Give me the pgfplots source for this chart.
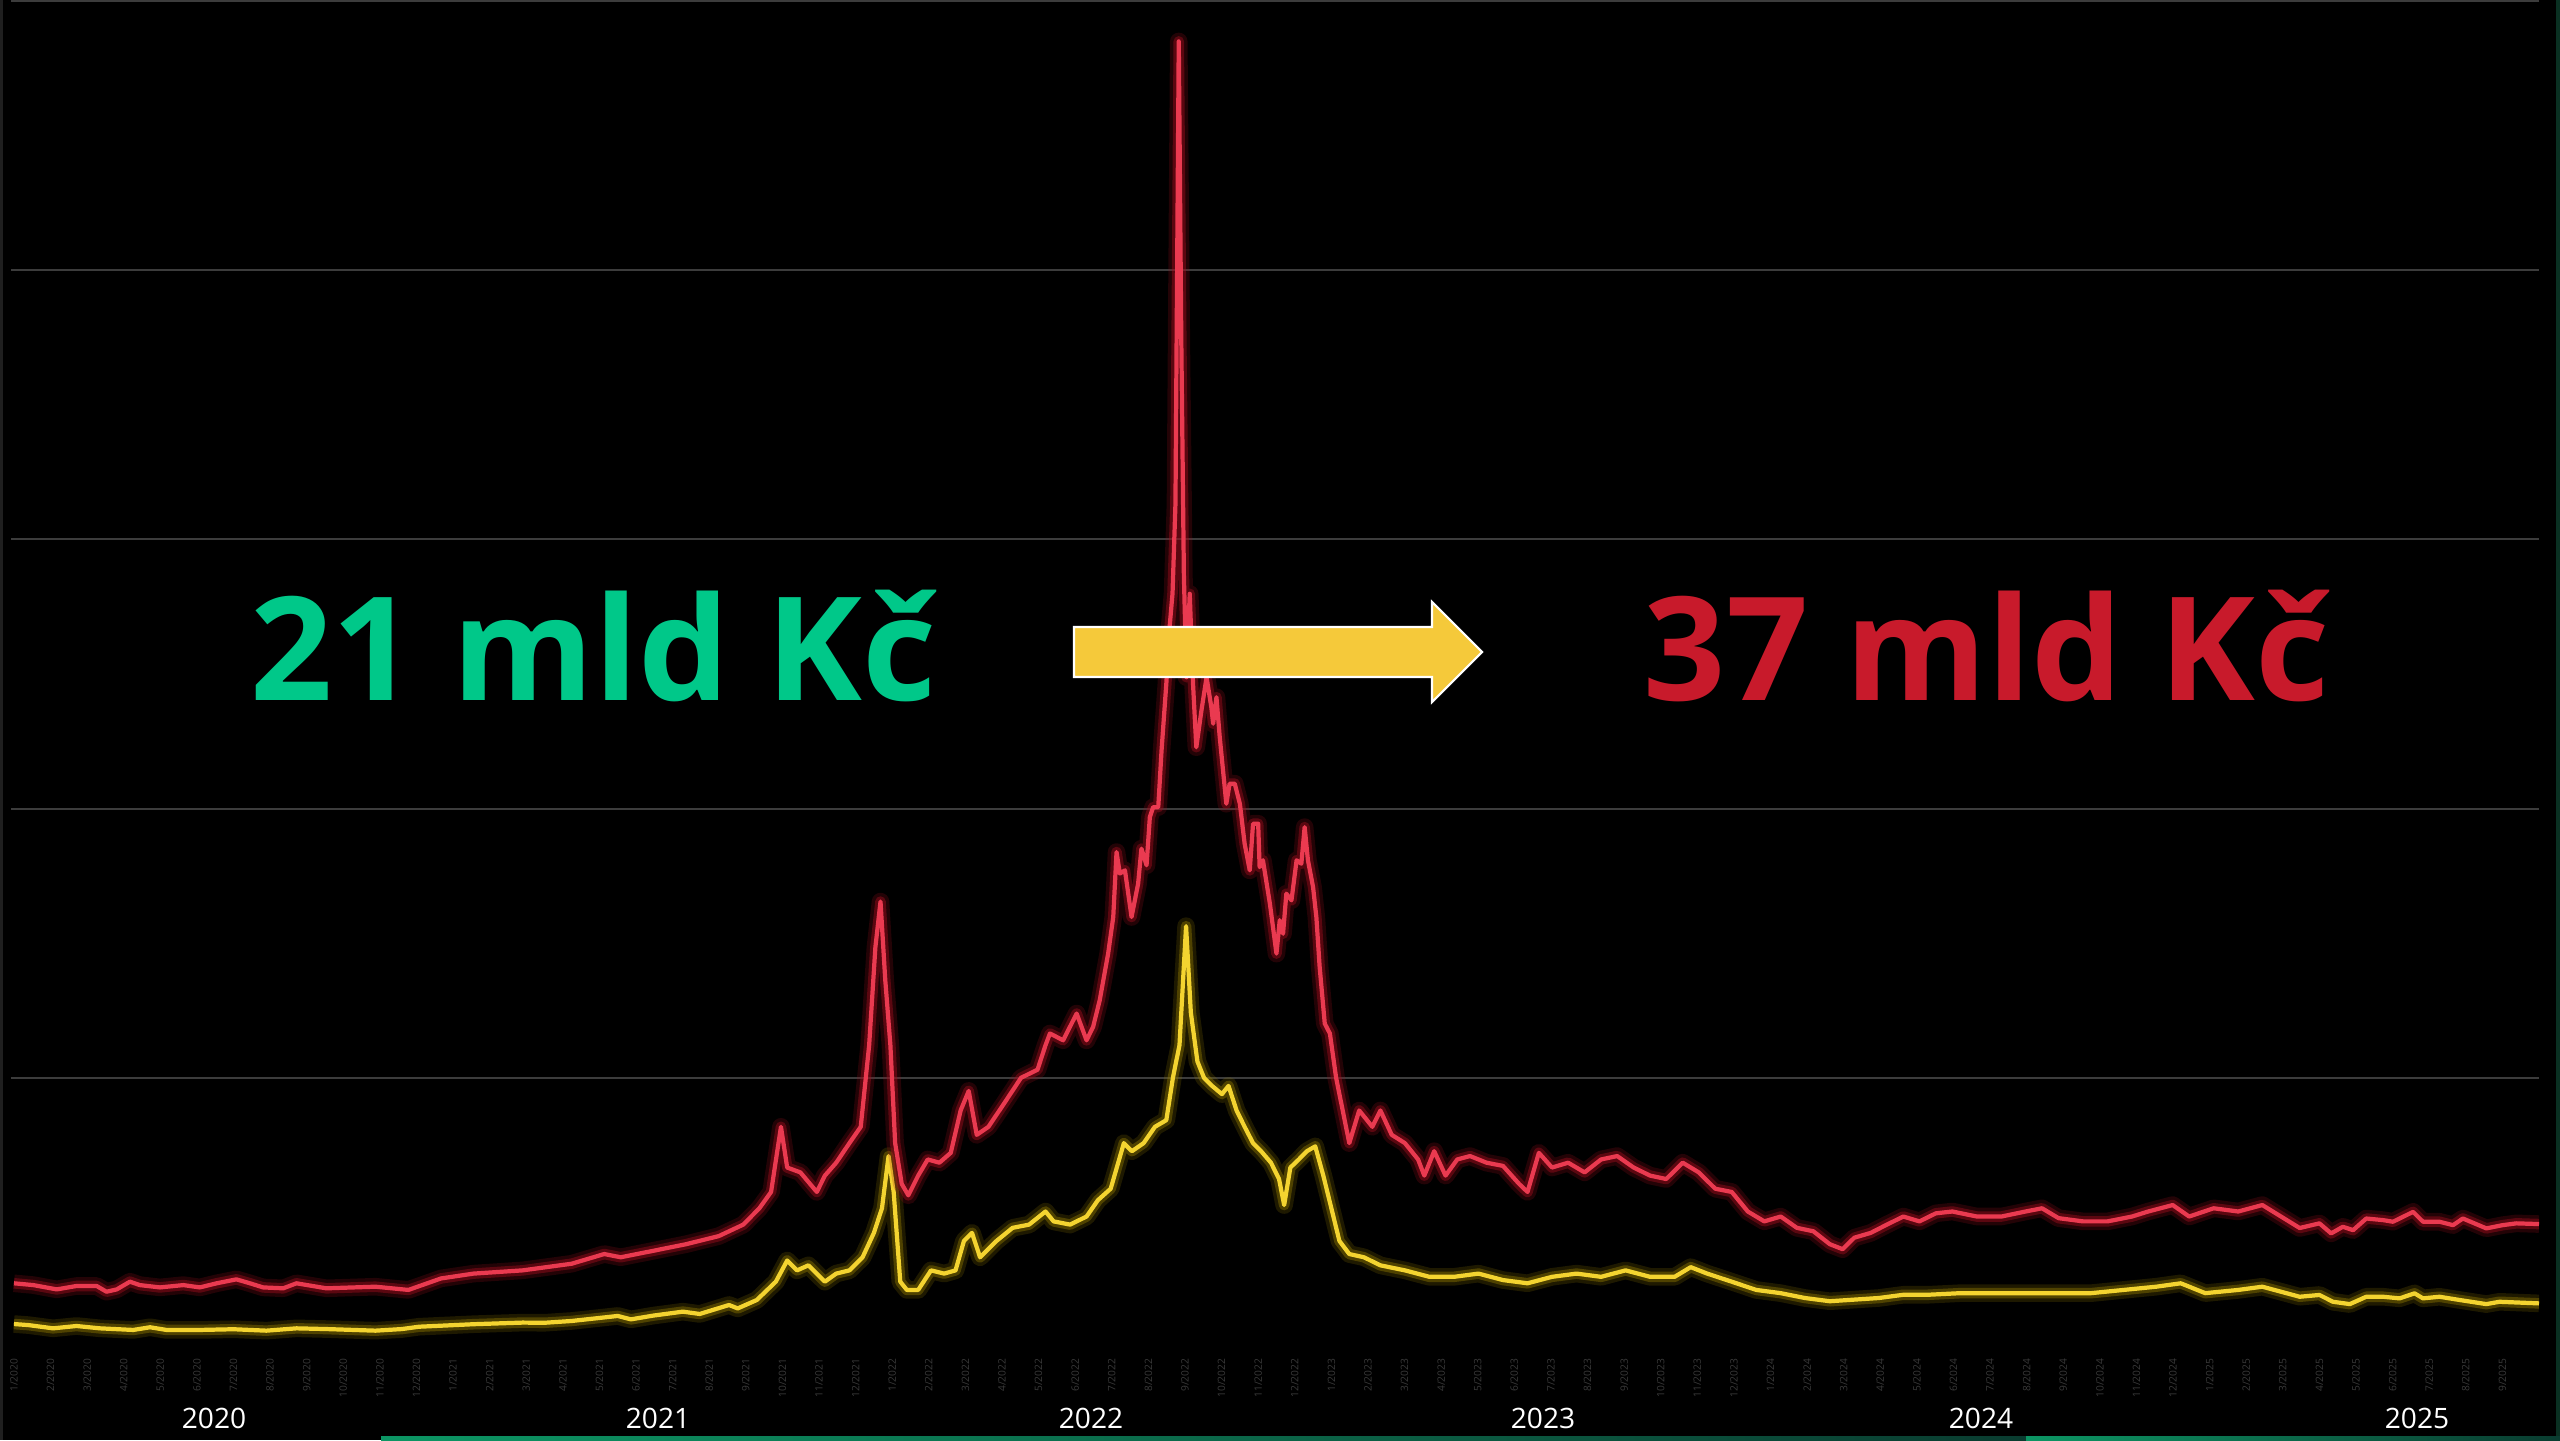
\documentclass[border=0pt]{standalone}
\usepackage{pgfplots}
\usepackage{pgfplotstable}
\pgfplotsset{compat=1.18}
\usepackage{fontspec}
\setmainfont{Open Sans}
\definecolor{gridgray}{RGB}{60,60,60}
\definecolor{tickgray}{RGB}{58,58,58}
\definecolor{redcore}{RGB}{234,58,80}
\definecolor{redglow}{RGB}{160,14,30}
\definecolor{yelcore}{RGB}{244,212,48}
\definecolor{yelglow}{RGB}{140,118,0}
\definecolor{kcgreen}{RGB}{0,200,137}
\definecolor{kcred}{RGB}{200,26,43}
\definecolor{arrowyellow}{RGB}{245,201,58}
\definecolor{edgegreen}{RGB}{10,48,34}
\definecolor{stripA}{RGB}{12,150,100}
\definecolor{stripB}{RGB}{10,60,48}

\pgfplotstableread{
m v
0.00 35.5
0.53 34.5
1.17 32.1
1.71 34.0
2.26 34.0
2.53 30.8
2.81 32.1
3.17 36.4
3.44 34.5
3.99 33.2
4.63 34.5
5.08 33.2
5.54 35.5
6.08 37.7
6.45 35.5
6.81 33.2
7.36 32.7
7.72 35.5
8.54 32.7
9.88 33.6
10.78 31.8
11.67 38.2
12.56 40.9
13.90 42.7
15.24 46.4
16.13 51.8
16.58 50.0
17.47 53.6
18.37 57.3
19.26 61.8
19.93 68.2
20.37 77.3
20.69 86.4
20.96 122.7
21.13 100.0
21.49 97.3
21.94 86.4
22.16 95.5
22.47 102.7
22.83 113.6
23.14 122.7
23.37 168.2
23.54 222.7
23.68 248.2
23.81 204.5
23.95 168.2
24.08 113.6
24.26 90.9
24.44 84.5
24.71 95.5
24.97 104.5
25.29 102.7
25.60 108.2
25.87 131.8
26.09 142.7
26.31 118.2
26.63 122.7
27.08 136.4
27.52 150.0
27.97 154.5
28.19 168.2
28.31 174.7
28.67 170.9
29.04 185.8
29.31 170.9
29.49 178.4
29.67 193.2
29.90 219.2
30.04 239.6
30.13 275.8
30.22 263.8
30.36 265.6
30.54 239.6
30.72 258.2
30.81 277.7
30.95 268.4
31.04 295.3
31.13 300.8
31.27 300.8
31.36 332.4
31.49 369.5
31.58 401.1
31.66 420.0
31.74 470.0
31.83 727.5
31.90 560.0
31.97 430.0
32.04 373.2
32.13 419.7
32.22 369.5
32.31 334.2
32.45 354.7
32.59 373.2
32.72 356.5
32.77 347.3
32.86 362.1
32.95 339.8
33.13 302.7
33.22 313.9
33.36 313.9
33.50 302.7
33.63 280.5
33.77 265.6
33.86 291.6
34.00 291.6
34.04 267.4
34.13 271.2
34.32 247.1
34.50 219.2
34.59 237.8
34.68 230.3
34.77 252.6
34.91 248.9
35.05 271.2
35.18 269.3
35.27 289.7
35.36 271.2
35.50 256.3
35.59 239.6
35.68 211.8
35.82 180.2
35.96 174.7
36.13 150.0
36.31 131.8
36.49 113.6
36.76 131.8
37.12 122.7
37.34 131.8
37.65 118.2
38.01 113.6
38.37 104.5
38.54 95.5
38.81 109.1
39.12 95.5
39.44 104.5
39.79 106.4
40.24 102.7
40.69 100.9
41.13 90.9
41.36 86.4
41.67 108.2
42.03 100.0
42.47 102.7
42.92 97.3
43.37 104.5
43.81 106.4
44.26 100.0
44.71 95.5
45.15 93.6
45.60 102.7
46.04 97.3
46.49 88.2
46.94 86.4
47.38 75.5
47.83 70.0
48.28 72.7
48.72 66.4
49.17 64.5
49.62 57.3
49.97 54.5
50.29 60.9
50.74 63.6
51.18 68.2
51.63 72.7
52.07 70.0
52.52 74.5
52.97 75.5
53.64 72.7
54.31 72.7
54.97 75.5
55.42 77.3
55.87 71.8
56.54 70.0
57.21 70.0
57.88 72.7
58.32 75.5
58.99 79.1
59.44 72.7
60.11 77.3
60.78 75.5
61.44 79.1
62.46 66.3
63.00 68.9
63.32 63.3
63.64 67.0
63.92 65.1
64.28 71.6
64.74 70.7
65.01 69.8
65.56 75.3
65.83 69.8
66.28 69.8
66.65 67.9
66.92 71.6
67.56 66.1
68.01 67.9
68.38 68.9
69.00 68.5
}\redtab

\pgfplotstableread{
m v
0.00 12.8
0.40 12.2
1.07 10.4
1.71 11.7
2.35 10.4
3.26 9.5
3.72 11.0
4.17 9.5
5.08 9.5
6.00 9.9
6.90 9.1
7.72 10.4
8.54 10.0
9.88 9.1
10.60 10.0
11.07 11.3
12.56 12.7
13.90 13.6
14.50 13.5
15.24 14.5
16.50 17.3
16.86 15.4
17.47 17.5
18.28 19.7
18.74 18.4
19.54 23.4
19.78 21.5
20.30 26.2
20.82 36.4
21.13 48.2
21.40 42.7
21.71 45.5
22.16 36.4
22.47 40.9
22.83 42.7
23.19 50.0
23.50 63.6
23.72 77.3
23.90 106.4
24.04 86.4
24.22 36.4
24.40 31.8
24.71 31.8
25.06 42.7
25.42 40.9
25.73 42.7
25.96 59.1
26.18 63.6
26.40 50.0
26.85 59.1
27.29 66.4
27.74 68.2
28.19 75.5
28.41 70.0
28.86 68.2
29.31 72.7
29.62 81.8
29.97 88.2
30.33 113.6
30.55 109.1
30.87 113.6
31.18 122.7
31.49 126.4
31.67 150.0
31.85 168.2
32.03 234.5
32.16 186.4
32.34 159.1
32.52 150.0
32.74 145.5
33.01 140.9
33.19 145.5
33.41 131.8
33.63 122.7
33.86 113.6
34.08 109.1
34.35 102.7
34.57 93.6
34.71 79.1
34.88 100.0
35.11 104.5
35.33 109.1
35.56 111.8
35.78 95.5
36.00 77.3
36.22 59.1
36.49 51.8
36.89 50.0
37.34 45.5
38.01 42.7
38.68 39.1
39.35 39.1
40.02 40.9
40.69 37.3
41.36 35.5
42.03 39.1
42.70 40.9
43.37 39.1
44.04 42.7
44.71 39.1
45.38 39.1
45.82 44.5
46.27 40.9
46.94 36.4
47.61 31.8
48.28 30.0
48.94 27.3
49.62 25.5
50.29 26.4
50.96 27.3
51.63 29.1
52.30 29.1
53.19 30.0
54.08 30.0
54.97 30.0
55.87 30.0
56.76 30.0
57.65 31.8
58.54 33.6
59.21 35.5
59.88 30.0
60.78 31.8
61.44 33.6
62.46 28.0
63.00 29.0
63.37 25.2
63.83 23.9
64.28 28.0
64.74 28.0
65.19 27.1
65.60 29.9
65.83 27.1
66.28 28.0
66.83 26.2
67.56 23.9
67.92 25.2
69.00 24.3
}\yeltab

\begin{document}
\begin{tikzpicture}
\useasboundingbox (0,0) rectangle (25.6,14.4);
\fill[black] (0,0) rectangle (25.6,14.4);
\fill[black!88] (0,0) rectangle (0.03,14.4);
\fill[edgegreen] (25.56,0) rectangle (25.6,14.4);
\shade[left color=stripA, right color=stripB] (3.81,0) rectangle (20.28,0.035);
\shade[left color=stripA, right color=stripB] (20.26,0) rectangle (25.6,0.035);
\begin{axis}[
  at={(0.11cm,0.93cm)}, anchor=south west,
  scale only axis, width=25.28cm, height=13.46cm,
  xmin=-0.08, xmax=69, ymin=0, ymax=750,
  axis line style={draw=none},
  major tick style={draw=none},
  ytick={150,300,450,600,750}, yticklabels={},
  ymajorgrids, major grid style={color=gridgray, line width=0.6pt},
  xtick={0,...,68},
  xticklabels={1/2020,2/2020,3/2020,4/2020,5/2020,6/2020,7/2020,8/2020,9/2020,10/2020,11/2020,12/2020,
    1/2021,2/2021,3/2021,4/2021,5/2021,6/2021,7/2021,8/2021,9/2021,10/2021,11/2021,12/2021,
    1/2022,2/2022,3/2022,4/2022,5/2022,6/2022,7/2022,8/2022,9/2022,10/2022,11/2022,12/2022,
    1/2023,2/2023,3/2023,4/2023,5/2023,6/2023,7/2023,8/2023,9/2023,10/2023,11/2023,12/2023,
    1/2024,2/2024,3/2024,4/2024,5/2024,6/2024,7/2024,8/2024,9/2024,10/2024,11/2024,12/2024,
    1/2025,2/2025,3/2025,4/2025,5/2025,6/2025,7/2025,8/2025,9/2025},
  xticklabel style={rotate=90, anchor=east, font=\fontsize{2.9}{3}\selectfont, text=tickgray, inner sep=0pt},
  xticklabel shift={0.11cm},
]
\addplot[yelglow, line width=5pt, opacity=0.22, line join=round] table[x=m,y=v] {\yeltab};
\addplot[yelglow, line width=3pt, opacity=0.45, line join=round] table[x=m,y=v] {\yeltab};
\addplot[yelcore, line width=1.2pt, line join=round] table[x=m,y=v] {\yeltab};
\addplot[redglow, line width=5pt, opacity=0.22, line join=round] table[x=m,y=v] {\redtab};
\addplot[redglow, line width=3pt, opacity=0.45, line join=round] table[x=m,y=v] {\redtab};
\addplot[redcore, line width=1.2pt, line join=round] table[x=m,y=v] {\redtab};
\end{axis}
\draw[white, line width=0.6pt, fill=arrowyellow, line join=miter]
  (10.74,8.13) -- (14.32,8.13) -- (14.32,8.38) -- (14.82,7.88) -- (14.32,7.38) -- (14.32,7.63) -- (10.74,7.63) -- cycle;
\node[anchor=base west, inner sep=0pt, text=kcgreen, font=\fontsize{41}{41}\selectfont\bfseries] at (2.50,7.39) {21 mld Kč};
\node[anchor=base west, inner sep=0pt, text=kcred, font=\fontsize{41}{41}\selectfont\bfseries] at (16.43,7.39) {37 mld Kč};
\foreach \xx/\yy in {2.14/2020, 6.58/2021, 10.91/2022, 15.43/2023, 19.81/2024, 24.17/2025}
  \node[anchor=base, inner sep=0pt, text=white, font=\fontsize{8}{8}\selectfont] at (\xx,0.12) {\yy};
\end{tikzpicture}
\end{document}
